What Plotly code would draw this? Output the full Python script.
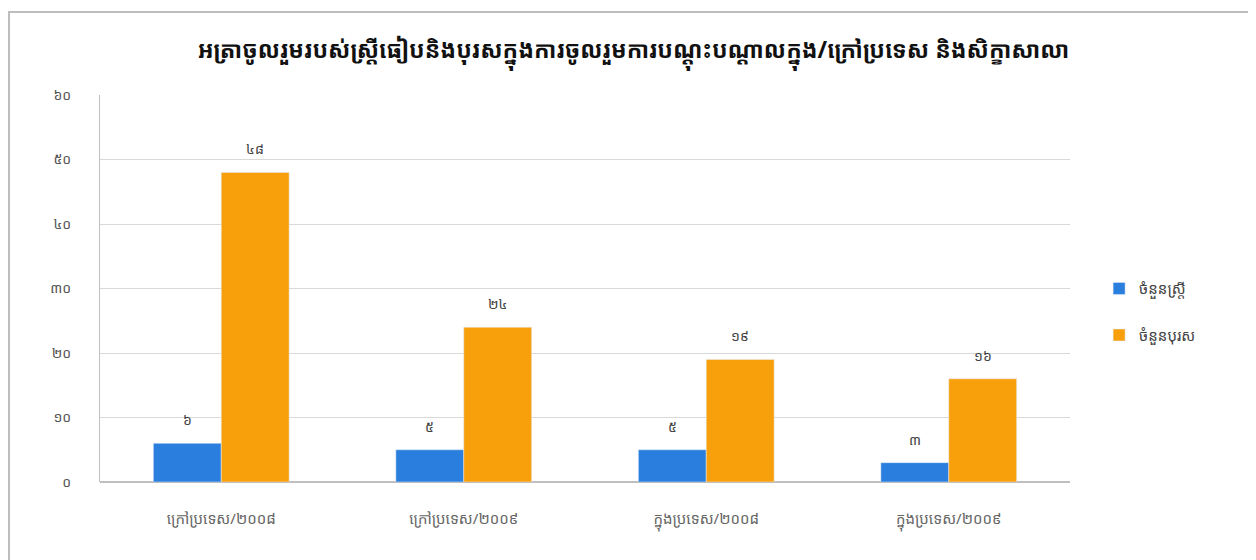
import plotly.graph_objects as go

categories = ["ក្រៅប្រទេស/២០០៨", "ក្រៅប្រទេស/២០០៩", "ក្នុងប្រទេស/២០០៨", "ក្នុងប្រទេស/២០០៩"]
female = [6, 5, 5, 3]
male = [48, 24, 19, 16]
female_name = "ចំនួនស្ត្រី"
male_name = "ចំនួនបុរស"
title_text = "អត្រាចូលរួមរបស់ស្ត្រីធៀបនិងបុរសក្នុងការចូលរួមការបណ្តុះបណ្តាលក្នុង/ក្រៅប្រទេស និងសិក្ខាសាលា"
tick_vals = [0, 10, 20, 30, 40, 50, 60]
khmer_digits = "០១២៣៤៥៦៧៨៩"


def kh(n):
    return "".join(khmer_digits[int(c)] for c in str(n))


FONT = "Noto Sans Khmer, Khmer OS, Noto Sans, DejaVu Sans, sans-serif"

fig = go.Figure()
fig.add_trace(go.Bar(
    x=categories, y=female, name=female_name,
    marker=dict(color="#2A7FDE"), legendgroup="f",
))
fig.add_trace(go.Bar(
    x=categories, y=male, name=male_name,
    marker=dict(color="#F8A00C"), legendgroup="m",
))

annotations = []
for series, shift in ((female, -34), (male, 34)):
    for c, v in zip(categories, series):
        annotations.append(dict(
            x=c, y=v, xref="x", yref="y", text=kh(v), showarrow=False,
            xshift=shift, yshift=12, yanchor="bottom",
            font=dict(size=14, color="#444444", family=FONT),
        ))

fig.update_layout(
    width=1256, height=560,
    paper_bgcolor="white", plot_bgcolor="white",
    margin=dict(l=92, r=194, t=87, b=86),
    barmode="group", bargap=0.44, bargroupgap=0,
    font=dict(family=FONT, color="#555555"),
    title=dict(text="<b>" + title_text + "</b>", x=0.498, xref="container", xanchor="center",
               y=0.925, yref="container", yanchor="middle",
               font=dict(size=23, color="#111111", family=FONT)),
    showlegend=True,
    legend=dict(x=1.03, y=0.44, xanchor="left", yanchor="middle",
                traceorder="grouped", tracegroupgap=24,
                font=dict(size=15, color="#444444", family=FONT),
                itemwidth=30, bgcolor="rgba(0,0,0,0)"),
    annotations=annotations,
    xaxis=dict(showgrid=False, showline=False, ticks="", ticklabelstandoff=26,
               tickfont=dict(size=15, color="#666666", family=FONT)),
    yaxis=dict(range=[0, 60], tickvals=tick_vals, ticktext=[kh(v) for v in tick_vals],
               showgrid=True, gridcolor="#D9D9D9", gridwidth=1,
               showline=True, linecolor="#BFBFBF", linewidth=1,
               zeroline=True, zerolinecolor="#BFBFBF",
               ticks="", ticklabelstandoff=25,
               tickfont=dict(size=14, color="#555555", family=FONT)),
    shapes=[dict(type="rect", xref="paper", yref="paper",
                 x0=-0.0938, x1=1.1887, y0=-0.23, y1=1.2145,
                 line=dict(color="#BDBDBD", width=2), fillcolor="rgba(0,0,0,0)", layer="below")],
)

fig.write_html("out.html")
